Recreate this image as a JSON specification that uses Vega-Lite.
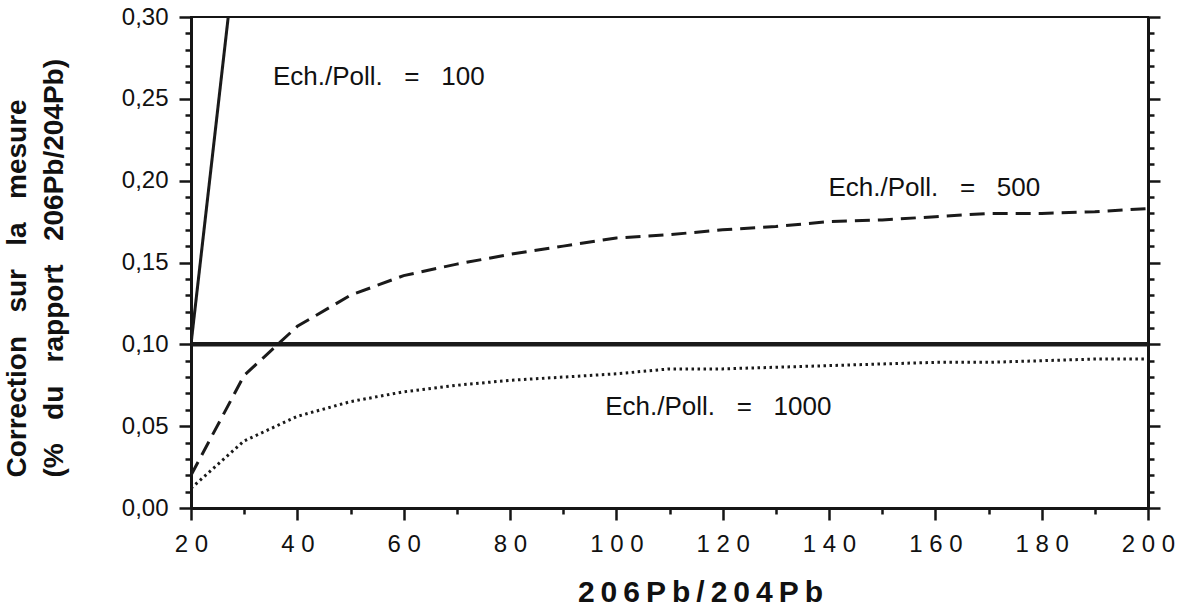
{
  "$schema": "https://vega.github.io/schema/vega-lite/v6.json",
  "width": 957,
  "height": 491,
  "autosize": {"type": "none"},
  "padding": {"left": 191, "top": 17, "right": 38, "bottom": 100},
  "background": "white",
  "config": {
    "view": {"stroke": "#151515", "strokeWidth": 2},
    "font": "Liberation Sans"
  },
  "datasets": {
    "curves": [
      {"x": 20, "y": 0.10, "series": "ref"},
      {"x": 200, "y": 0.10, "series": "ref"},
      {"x": 20, "y": 0.10, "series": "r100"},
      {"x": 27, "y": 0.30, "series": "r100"},
      {"x": 20, "y": 0.020, "series": "r500"},
      {"x": 30, "y": 0.081, "series": "r500"},
      {"x": 40, "y": 0.111, "series": "r500"},
      {"x": 50, "y": 0.130, "series": "r500"},
      {"x": 60, "y": 0.142, "series": "r500"},
      {"x": 70, "y": 0.149, "series": "r500"},
      {"x": 80, "y": 0.155, "series": "r500"},
      {"x": 90, "y": 0.160, "series": "r500"},
      {"x": 100, "y": 0.165, "series": "r500"},
      {"x": 110, "y": 0.167, "series": "r500"},
      {"x": 120, "y": 0.170, "series": "r500"},
      {"x": 130, "y": 0.172, "series": "r500"},
      {"x": 140, "y": 0.175, "series": "r500"},
      {"x": 150, "y": 0.176, "series": "r500"},
      {"x": 160, "y": 0.178, "series": "r500"},
      {"x": 170, "y": 0.180, "series": "r500"},
      {"x": 180, "y": 0.180, "series": "r500"},
      {"x": 190, "y": 0.181, "series": "r500"},
      {"x": 200, "y": 0.183, "series": "r500"},
      {"x": 20, "y": 0.012, "series": "r1000"},
      {"x": 30, "y": 0.041, "series": "r1000"},
      {"x": 40, "y": 0.056, "series": "r1000"},
      {"x": 50, "y": 0.065, "series": "r1000"},
      {"x": 60, "y": 0.071, "series": "r1000"},
      {"x": 70, "y": 0.075, "series": "r1000"},
      {"x": 80, "y": 0.078, "series": "r1000"},
      {"x": 90, "y": 0.080, "series": "r1000"},
      {"x": 100, "y": 0.082, "series": "r1000"},
      {"x": 110, "y": 0.085, "series": "r1000"},
      {"x": 120, "y": 0.085, "series": "r1000"},
      {"x": 130, "y": 0.086, "series": "r1000"},
      {"x": 140, "y": 0.087, "series": "r1000"},
      {"x": 150, "y": 0.088, "series": "r1000"},
      {"x": 160, "y": 0.089, "series": "r1000"},
      {"x": 170, "y": 0.089, "series": "r1000"},
      {"x": 180, "y": 0.090, "series": "r1000"},
      {"x": 190, "y": 0.091, "series": "r1000"},
      {"x": 200, "y": 0.091, "series": "r1000"}
    ],
    "notes": [
      {"x": 35.4, "y": 0.2636, "label": "Ech./Poll.\u00a0\u00a0\u00a0=\u00a0\u00a0\u00a0100"},
      {"x": 139.9, "y": 0.1958, "label": "Ech./Poll.\u00a0\u00a0\u00a0=\u00a0\u00a0\u00a0500"},
      {"x": 97.9, "y": 0.062, "label": "Ech./Poll.\u00a0\u00a0\u00a0=\u00a0\u00a0\u00a01000"}
    ]
  },
  "resolve": {"scale": {"x": "shared", "y": "shared"}, "axis": {"y": "independent"}},
  "layer": [
    {
      "data": {"name": "curves"},
      "transform": [{"filter": "datum.series === 'ref'"}],
      "mark": {"type": "line", "color": "#1a1a1a", "strokeWidth": 4.5, "clip": true},
      "encoding": {
        "x": {
          "field": "x", "type": "quantitative",
          "scale": {"domain": [20, 200], "nice": false, "zero": false},
          "axis": {
            "values": [20, 30, 40, 50, 60, 70, 80, 90, 100, 110, 120, 130, 140, 150, 160, 170, 180, 190, 200],
            "labelExpr": "datum.value % 20 === 0 ? join(split(toString(datum.value), ''), ' ') : ''",
            "labelFont": "Liberation Sans", "labelFontSize": 24, "labelColor": "#111",
            "labelPadding": 12, "labelFlush": false, "labelOverlap": false,
            "tickSize": {"condition": {"test": "datum.value % 20 === 0", "value": 12}, "value": 6},
            "tickWidth": 2.5, "tickColor": "#151515",
            "domainWidth": 3, "domainColor": "#151515",
            "grid": false,
            "title": "2\u20090\u20096\u2009P\u2009b\u2009/\u20092\u20090\u20094\u2009P\u2009b",
            "titleFont": "Liberation Sans", "titleFontSize": 30, "titleFontWeight": "bold", "titleColor": "#111",
            "titleAlign": "center", "titleBaseline": "alphabetic", "titleX": 509, "titleY": 93
          }
        },
        "y": {
          "field": "y", "type": "quantitative",
          "scale": {"domain": [0, 0.3], "nice": false, "zero": false},
          "axis": {
            "orient": "left",
            "values": [0, 0.01, 0.02, 0.03, 0.04, 0.05, 0.06, 0.07, 0.08, 0.09, 0.10, 0.11, 0.12, 0.13, 0.14, 0.15, 0.16, 0.17, 0.18, 0.19, 0.20, 0.21, 0.22, 0.23, 0.24, 0.25, 0.26, 0.27, 0.28, 0.29, 0.30],
            "labelExpr": "round(datum.value * 100) % 5 === 0 ? replace(format(datum.value, '.2f'), '.', ',') : ''",
            "labelFont": "Liberation Sans", "labelFontSize": 24, "labelColor": "#111",
            "labelPadding": 11, "labelOverlap": false, "labelFlush": false,
            "tickSize": {"condition": {"test": "round(datum.value * 100) % 5 === 0", "value": 12}, "value": 6},
            "tickWidth": 2.5, "tickColor": "#151515",
            "domainWidth": 3, "domainColor": "#151515",
            "grid": false,
            "title": ["Correction\u00a0\u00a0\u00a0sur\u00a0\u00a0\u00a0la\u00a0\u00a0\u00a0mesure", "(%\u00a0\u00a0\u00a0du\u00a0\u00a0\u00a0rapport\u00a0\u00a0\u00a0206Pb/204Pb)"],
            "titleFont": "Liberation Sans", "titleFontSize": 28, "titleFontWeight": "bold", "titleColor": "#111",
            "titleAngle": 270, "titleAlign": "left", "titleBaseline": "top",
            "titleX": -188, "titleY": 460, "titleLineHeight": 37
          }
        }
      }
    },
    {
      "data": {"name": "curves"},
      "transform": [{"filter": "datum.series === 'r100'"}],
      "mark": {"type": "line", "color": "#1a1a1a", "strokeWidth": 3, "clip": true},
      "encoding": {
        "x": {"field": "x", "type": "quantitative"},
        "y": {"field": "y", "type": "quantitative", "axis": null}
      }
    },
    {
      "data": {"name": "curves"},
      "transform": [{"filter": "datum.series === 'r500'"}],
      "mark": {"type": "line", "color": "#1a1a1a", "strokeWidth": 3, "strokeDash": [15, 8], "clip": true},
      "encoding": {
        "x": {"field": "x", "type": "quantitative"},
        "y": {
          "field": "y", "type": "quantitative",
          "axis": {
            "orient": "right",
            "values": [0, 0.01, 0.02, 0.03, 0.04, 0.05, 0.06, 0.07, 0.08, 0.09, 0.10, 0.11, 0.12, 0.13, 0.14, 0.15, 0.16, 0.17, 0.18, 0.19, 0.20, 0.21, 0.22, 0.23, 0.24, 0.25, 0.26, 0.27, 0.28, 0.29, 0.30],
            "labels": false,
            "tickSize": {"condition": {"test": "round(datum.value * 100) % 5 === 0", "value": 12}, "value": 6},
            "tickWidth": 2.5, "tickColor": "#151515",
            "domainWidth": 3, "domainColor": "#151515",
            "grid": false, "title": null
          }
        }
      }
    },
    {
      "data": {"name": "curves"},
      "transform": [{"filter": "datum.series === 'r1000'"}],
      "mark": {"type": "line", "color": "#1a1a1a", "strokeWidth": 3, "strokeDash": [2.5, 3.5], "clip": true},
      "encoding": {
        "x": {"field": "x", "type": "quantitative"},
        "y": {"field": "y", "type": "quantitative", "axis": null}
      }
    },
    {
      "data": {"name": "notes"},
      "mark": {"type": "text", "align": "left", "baseline": "middle", "font": "Liberation Sans", "fontSize": 26, "color": "#111"},
      "encoding": {
        "x": {"field": "x", "type": "quantitative"},
        "y": {"field": "y", "type": "quantitative", "axis": null},
        "text": {"field": "label"}
      }
    }
  ]
}
